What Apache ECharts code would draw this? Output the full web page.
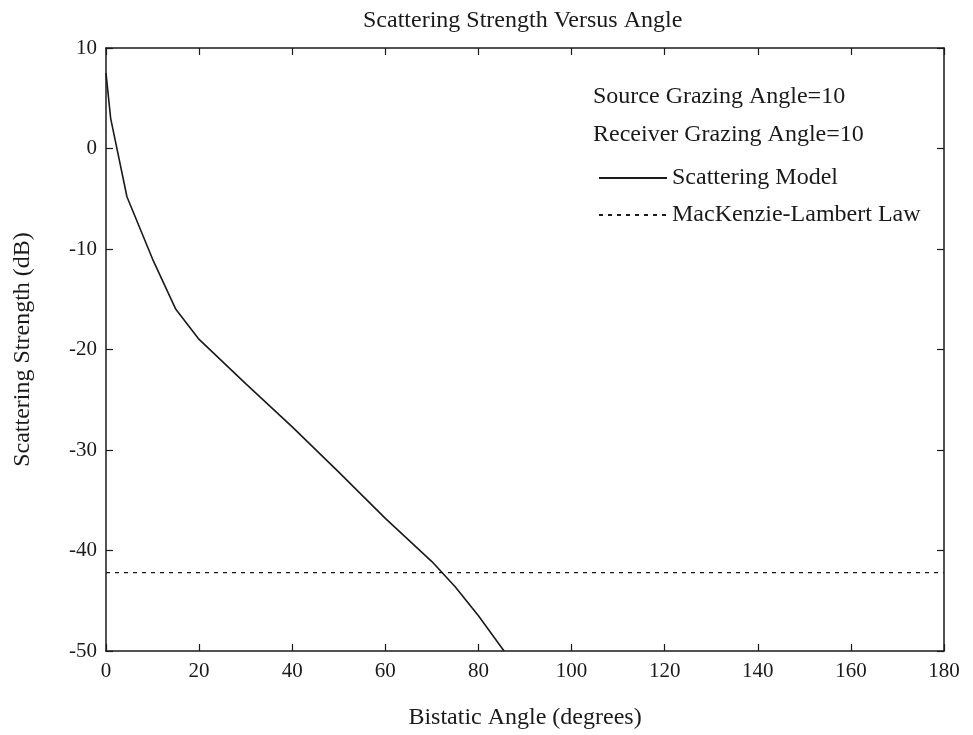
<!DOCTYPE html>
<html>
<head>
<meta charset="utf-8">
<script src="https://cdn.jsdelivr.net/npm/echarts@6/dist/echarts.min.js"></script>
<style>
  html, body { margin: 0; padding: 0; background: #fff; }
  #chart { width: 973px; height: 735px; }
</style>
</head>
<body>
<div id="chart"></div>
<script>
// values
var modelAngle = [0, 1, 4.5, 10, 15, 20, 30, 40, 50, 60, 70, 75, 80, 85.5];
var modelDb = [7.5, 3, -4.8, -11, -16, -19, -23.4, -27.7, -32.2, -36.8, -41.1, -43.6, -46.5, -50];
var lambertAngle = [0, 180];
var lambertDb = [-42.2, -42.2];
var xTicks = [0, 20, 40, 60, 80, 100, 120, 140, 160, 180];
var yTicks = [10, 0, -10, -20, -30, -40, -50];
var infoLines = ['Source Grazing Angle=10', 'Receiver Grazing Angle=10'];

var serif = '"Liberation Serif", "DejaVu Serif", serif';
var ink = '#1a1a1a';

function pairs(xs, ys) {
    return xs.map(function (x, i) { return [x, ys[i]]; });
}

var chart = echarts.init(document.getElementById('chart'), null, {renderer: 'canvas'});

// frame axes: line + inward ticks, no labels
function frameAxis(extra) {
    return Object.assign({
        type: 'value',
        axisLine: {onZero: false, lineStyle: {color: ink, width: 1.5}},
        axisTick: {inside: true, length: 7, lineStyle: {color: ink, width: 1.2}},
        axisLabel: {show: false},
        splitLine: {show: false}
    }, extra);
}

var option = {
    backgroundColor: '#fff',
    animation: false,
    title: {
        text: 'Scattering Strength Versus Angle',
        left: 358,
        top: 4,
        textStyle: {fontFamily: serif, fontSize: 24, fontWeight: 'normal', color: ink}
    },
    grid: {left: 106, right: 29, top: 48, bottom: 81},
    legend: {
        orient: 'vertical',
        left: 593,
        top: 161,
        itemGap: 13,
        itemWidth: 68,
        itemHeight: 20,
        itemStyle: {opacity: 0},
        textStyle: {fontFamily: serif, fontSize: 24, color: ink},
        data: ['Scattering Model', 'MacKenzie-Lambert Law']
    },
    xAxis: [
        frameAxis({
            position: 'bottom',
            min: 0,
            max: 180,
            interval: 20,
            name: 'Bistatic Angle (degrees)',
            nameLocation: 'middle',
            nameGap: 55,
            nameTextStyle: {fontFamily: serif, fontSize: 24, color: ink},
            axisLabel: {
                show: true, margin: 10, fontFamily: serif, fontSize: 21, color: ink,
                formatter: function (v) { return xTicks.indexOf(v) >= 0 ? String(v) : ''; }
            }
        }),
        frameAxis({position: 'top', min: 0, max: 180, interval: 20})
    ],
    yAxis: [
        frameAxis({
            position: 'left',
            min: -50,
            max: 10,
            interval: 10,
            name: 'Scattering Strength (dB)',
            nameLocation: 'middle',
            nameGap: 71,
            nameTextStyle: {fontFamily: serif, fontSize: 24, color: ink},
            axisLabel: {
                show: true, margin: 9, fontFamily: serif, fontSize: 21, color: ink,
                formatter: function (v) { return yTicks.indexOf(v) >= 0 ? String(v) : ''; }
            }
        }),
        frameAxis({position: 'right', min: -50, max: 10, interval: 10})
    ],
    graphic: infoLines.map(function (t, i) {
        return {
            type: 'text',
            left: 593,
            top: 85 + i * 38,
            style: {text: t, font: '24px ' + serif, fill: ink}
        };
    }),
    series: [
        {
            name: 'Scattering Model',
            type: 'line',
            symbol: 'none',
            lineStyle: {color: ink, width: 1.6},
            itemStyle: {color: ink},
            data: pairs(modelAngle, modelDb)
        },
        {
            name: 'MacKenzie-Lambert Law',
            type: 'line',
            symbol: 'none',
            lineStyle: {color: ink, width: 1.4, type: [4, 5]},
            itemStyle: {color: ink},
            data: pairs(lambertAngle, lambertDb)
        }
    ]
};

chart.setOption(option);
</script>
</body>
</html>
